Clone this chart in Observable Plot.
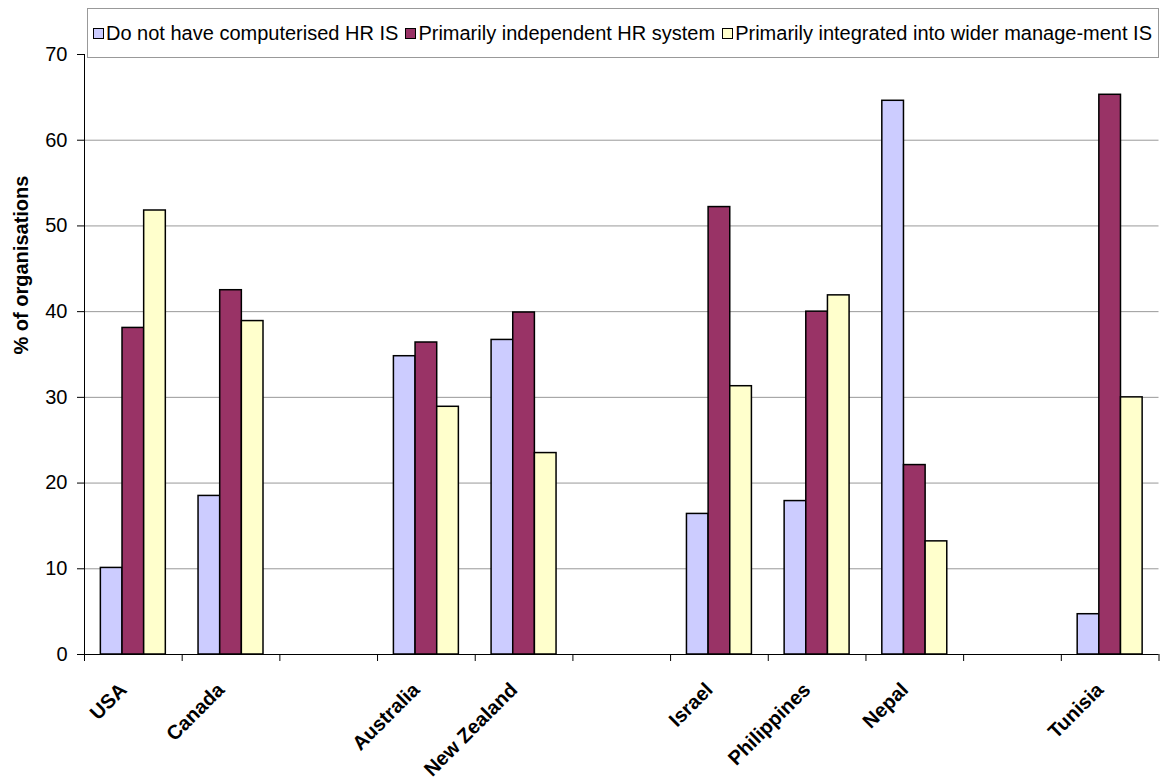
<!DOCTYPE html>
<html>
<head>
<meta charset="utf-8">
<script src="https://cdn.jsdelivr.net/npm/d3@7"></script>
<script src="https://cdn.jsdelivr.net/npm/@observablehq/plot@0.6"></script>
<style>
  body { margin: 0; background: #fff; font-family: "Liberation Sans", Arial, sans-serif; }
  #wrap { position: relative; width: 1160px; height: 780px; overflow: hidden; }
  #chart { position: absolute; left: 0; top: 0; }
  #legend {
    position: absolute; left: 87px; top: 8px; width: 1072px; height: 50px;
    border: 1px solid #999; background: #fff; box-sizing: border-box;
    display: flex; align-items: center; padding-left: 5px;
  }
  .item { display: flex; align-items: center; font-size: 20px; line-height: 20px; white-space: nowrap; margin-right: 7px; color: #000; }
  .sw { width: 11px; height: 11px; border: 1px solid #000; box-sizing: border-box; margin-right: 2px; }
</style>
</head>
<body>
<div id="wrap">
  <div id="chart"></div>
  <div id="legend"></div>
</div>
<script>
// ---- data ----
const countries = ["USA", "Canada", "", "Australia", "New Zealand", "", "Israel", "Philippines", "Nepal", "", "Tunisia"];
const seriesNames = ["Do not have computerised HR IS", "Primarily independent HR system", "Primarily integrated into wider manage-ment IS"];
const seriesColors = ["#CCCCFF", "#993366", "#FFFFCC"];
const noComputerised = [10.1, 18.5, null, 34.8, 36.7, null, 16.4, 17.9, 64.6, null, 4.7];
const independentHR  = [38.1, 42.5, null, 36.4, 39.9, null, 52.2, 40.0, 22.1, null, 65.3];
const integratedIS   = [51.8, 38.9, null, 28.9, 23.5, null, 31.3, 41.9, 13.2, null, 30.0];
const yTicks = [0, 10, 20, 30, 40, 50, 60, 70];
const yTitle = "% of organisations";

// ---- build table (clustered: 3 bars per category slot) ----
const seriesValues = [noComputerised, independentHR, integratedIS];
const groupFrac = 0.665;            // share of a slot occupied by the cluster
const barFrac = groupFrac / seriesNames.length;
const rows = [];
seriesValues.forEach((vals, k) => {
  vals.forEach((v, i) => {
    if (v == null) return;
    const x1 = i - groupFrac / 2 + k * barFrac;
    rows.push({ i, series: seriesNames[k], value: v, x1, x2: x1 + barFrac });
  });
});
const labelIdx = countries.map((c, i) => c ? i : null).filter(i => i != null);
const boundaries = d3.range(-0.5, countries.length, 1);

const font = "'Liberation Sans', Arial, sans-serif";
const chart = Plot.plot({
  width: 1160,
  height: 780,
  marginLeft: 84,
  marginRight: 1.5,
  marginTop: 54,
  marginBottom: 126,
  style: { fontFamily: font, background: "transparent", color: "#000", overflow: "visible" },
  x: { type: "linear", domain: [-0.5, countries.length - 0.5] },
  y: { domain: [0, 70] },
  color: { domain: seriesNames, range: seriesColors },
  marks: [
    Plot.gridY(yTicks.filter(t => t > 0 && t < 70), { stroke: "#999", strokeOpacity: 1 }),
    Plot.rectY(rows, { x1: "x1", x2: "x2", y1: 0, y2: "value", fill: "series", stroke: "#000", strokeWidth: 1.5 }),
    Plot.ruleX([-0.5], { stroke: "#000" }),
    Plot.ruleY([0], { stroke: "#000" }),
    Plot.axisY(yTicks, { tickSize: 7, tickPadding: 10, fontSize: 20, label: null }),
    Plot.axisX(boundaries, { tickSize: 7, tickFormat: () => "", label: null }),
    Plot.axisX(labelIdx, {
      tickFormat: i => countries[i], tickSize: 0, tickPadding: 32, tickRotate: -45,
      fontSize: 20, fontWeight: "bold", dx: -10, label: null
    }),
    Plot.text([yTitle], {
      text: d => d, frameAnchor: "left", rotate: -90, dx: -63,
      fontSize: 20, fontWeight: "bold", fill: "#000"
    })
  ]
});
document.getElementById("chart").appendChild(chart);

// ---- legend ----
const legend = document.getElementById("legend");
seriesNames.forEach((name, k) => {
  const item = document.createElement("div");
  item.className = "item";
  const sw = document.createElement("span");
  sw.className = "sw";
  sw.style.background = seriesColors[k];
  const label = document.createElement("span");
  label.textContent = name;
  item.appendChild(sw);
  item.appendChild(label);
  legend.appendChild(item);
});
</script>
</body>
</html>
